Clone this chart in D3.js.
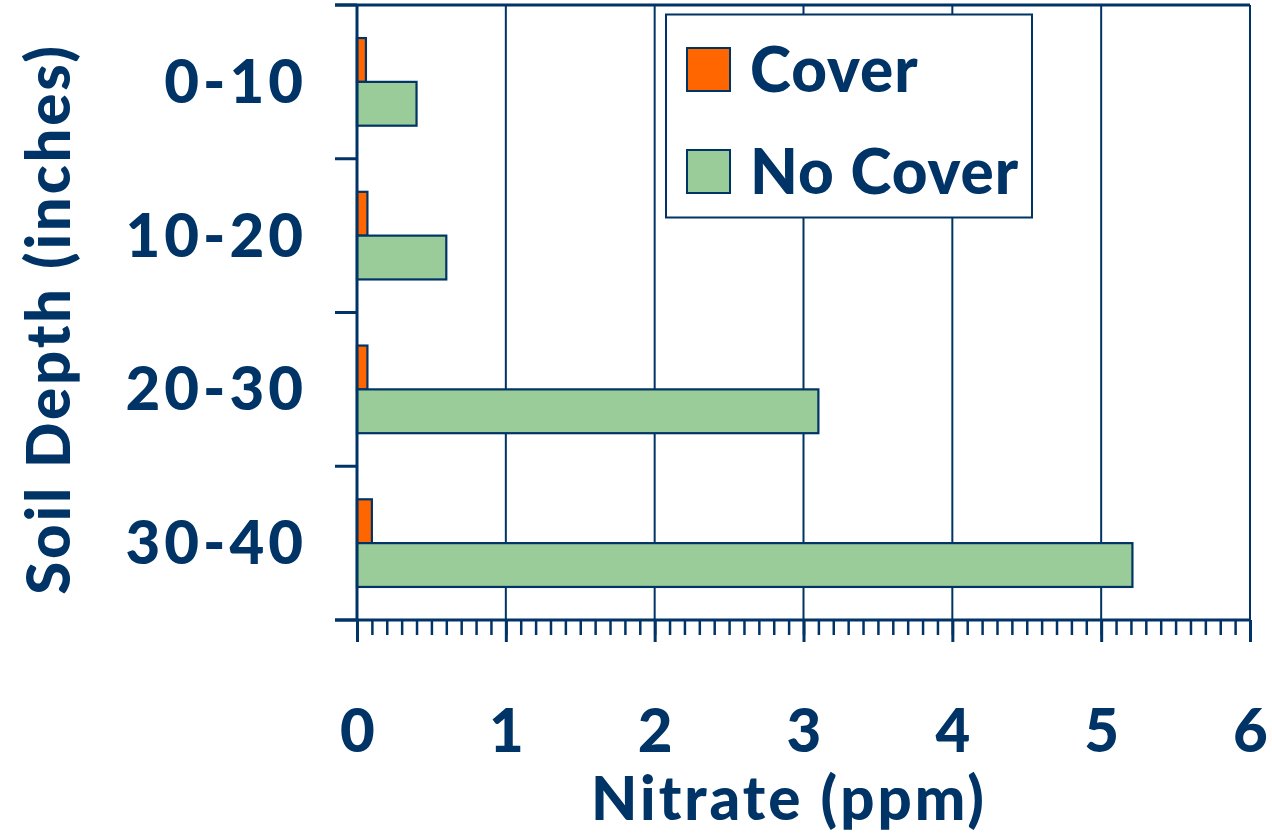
<!DOCTYPE html>
<html>
<head>
<meta charset="utf-8">
<script src="https://cdn.jsdelivr.net/npm/d3@7"></script>
<style>
  html, body { margin: 0; padding: 0; background: #fff; }
  svg { display: block; }
  text { font-family: "Comic Sans MS", "Lato", "DejaVu Sans", sans-serif; font-weight: 900; fill: #003366; }
</style>
</head>
<body>
<svg id="chart" width="1272" height="837"></svg>
<script>
// Soil nitrate by depth, with and without a cover crop
const depths = ["0-10", "10-20", "20-30", "30-40"];
const seriesNames = ["Cover", "No Cover"];
const coverValues = [0.06, 0.07, 0.07, 0.10];
const noCoverValues = [0.40, 0.60, 3.10, 5.21];
const xTicks = [0, 1, 2, 3, 4, 5, 6];
const colors = ["#FF6600", "#99CC99"];
const ink = "#003366";

const svg = d3.select("#chart");
const plotLeft = 357, plotRight = 1250, plotTop = 5, plotBottom = 620;

const x = d3.scaleLinear().domain([0, 6]).range([plotLeft, plotRight]);
const y = d3.scaleBand().domain(depths).range([plotTop, plotBottom])
  .paddingInner(0.43).paddingOuter(0.215);
const ySub = d3.scaleBand().domain(seriesNames).range([0, y.bandwidth()]);

const rows = depths.map((d, i) => ({ depth: d, values: [coverValues[i], noCoverValues[i]] }));

// vertical gridlines
svg.append("g").selectAll("line").data(xTicks.slice(1)).join("line")
  .attr("x1", d => x(d)).attr("x2", d => x(d))
  .attr("y1", plotTop).attr("y2", plotBottom)
  .attr("stroke", ink).attr("stroke-width", 2);

// top frame line
svg.append("line").attr("x1", 335).attr("x2", plotRight).attr("y1", plotTop).attr("y2", plotTop)
  .attr("stroke", ink).attr("stroke-width", 3);

// bars
const groups = svg.append("g").selectAll("g").data(rows).join("g")
  .attr("transform", d => `translate(0,${y(d.depth)})`);
groups.selectAll("rect").data(d => d.values.map((v, j) => ({ v, s: seriesNames[j], j })))
  .join("rect")
  .attr("x", x(0))
  .attr("y", d => ySub(d.s))
  .attr("width", d => x(d.v) - x(0))
  .attr("height", ySub.bandwidth())
  .attr("fill", d => colors[d.j])
  .attr("stroke", ink).attr("stroke-width", 2.2);

// x axis: minor ticks every 0.1, major ticks with labels
const xMinor = svg.append("g").attr("transform", `translate(0,${plotBottom})`);
xMinor.call(d3.axisBottom(x).tickValues(d3.range(0, 61, 1).map(d => d / 10))
  .tickSize(15).tickFormat(""));
xMinor.select(".domain").remove();
xMinor.selectAll(".tick line").attr("stroke", ink).attr("stroke-width", 2.5);
const xMajor = svg.append("g").attr("transform", `translate(0,${plotBottom})`);
xMajor.call(d3.axisBottom(x).tickValues(xTicks).tickSize(22).tickFormat(d3.format("d")));
xMajor.select(".domain").remove();
xMajor.selectAll(".tick line").attr("stroke", ink).attr("stroke-width", 3);
xMajor.selectAll(".tick text").attr("y", 132).attr("dy", 0)
  .style("font-size", "60px").attr("fill", ink);
svg.append("line").attr("x1", 335).attr("x2", plotRight).attr("y1", plotBottom).attr("y2", plotBottom)
  .attr("stroke", ink).attr("stroke-width", 3);

// y axis: labels centred on each band, ticks on band boundaries
const yAxis = svg.append("g").attr("transform", `translate(${plotLeft},0)`);
yAxis.call(d3.axisLeft(y).tickSize(0).tickPadding(50));
yAxis.select(".domain").remove();
yAxis.selectAll(".tick text").style("font-size", "60px").style("letter-spacing", "4px")
  .attr("dy", "0.35em").attr("fill", ink);
const boundaries = d3.range(depths.length + 1).map(i => plotTop + i * y.step());
svg.append("g").selectAll("line").data(boundaries).join("line")
  .attr("x1", 335).attr("x2", plotLeft).attr("y1", d => d).attr("y2", d => d)
  .attr("stroke", ink).attr("stroke-width", 3);
svg.append("line").attr("x1", plotLeft).attr("x2", plotLeft).attr("y1", plotTop).attr("y2", plotBottom)
  .attr("stroke", ink).attr("stroke-width", 3);

// axis titles
svg.append("text").attr("x", 789).attr("y", 820).attr("text-anchor", "middle")
  .style("font-size", "60px").style("letter-spacing", "3px").text("Nitrate (ppm)");
svg.append("text").attr("transform", "translate(70,319) rotate(-90)")
  .attr("text-anchor", "middle").style("font-size", "60px").style("letter-spacing", "2.8px")
  .text("Soil Depth (inches)");

// legend
const legend = svg.append("g");
legend.append("rect").attr("x", 666).attr("y", 14.5).attr("width", 366).attr("height", 203)
  .attr("fill", "#fff").attr("stroke", ink).attr("stroke-width", 2);
const items = legend.selectAll("g.item").data(seriesNames).join("g").attr("class", "item")
  .attr("transform", (d, i) => `translate(687,${48 + i * 102})`);
items.append("rect").attr("width", 43).attr("height", 43)
  .attr("fill", (d, i) => colors[i]).attr("stroke", ink).attr("stroke-width", 2);
items.append("text").attr("x", 63).attr("y", 44).style("font-size", "62px")
  .style("letter-spacing", "1px").text(d => d);
</script>
</body>
</html>
